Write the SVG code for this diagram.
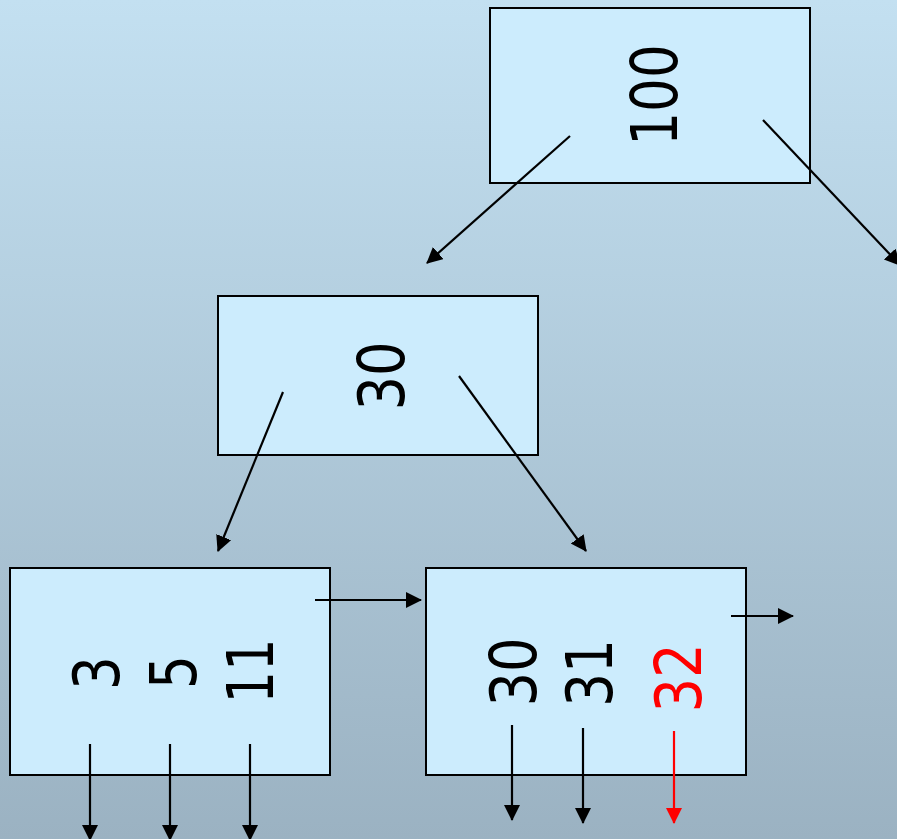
<svg xmlns="http://www.w3.org/2000/svg" width="897" height="839" viewBox="0 0 897 839">
<defs>
<linearGradient id="bg" x1="0" y1="0" x2="0" y2="1">
<stop offset="0" stop-color="#c3e0f1"/>
<stop offset="1" stop-color="#9bb2c2"/>
</linearGradient>
<marker id="ah" markerUnits="userSpaceOnUse" markerWidth="18" markerHeight="18" refX="15" refY="8" orient="auto">
<path d="M0,0 L16,8 L0,16 z" fill="#000"/>
</marker>
<marker id="ahr" markerUnits="userSpaceOnUse" markerWidth="18" markerHeight="18" refX="15" refY="8" orient="auto">
<path d="M0,0 L16,8 L0,16 z" fill="#ff0000"/>
</marker>
</defs>
<style>
.box{fill:#ccecfd;stroke:#000;stroke-width:2}
.lbl{font-family:"DejaVu Sans",sans-serif;font-size:64px;fill:#000;text-anchor:middle}
.red{fill:#ff0000}
.c{stroke:#000;stroke-width:2.2;fill:none;marker-end:url(#ah)}
.cr{stroke:#ff0000;stroke-width:2.2;fill:none;marker-end:url(#ahr)}
</style>
<rect x="0" y="0" width="897" height="839" fill="url(#bg)"/>
<g id="node-100">
<rect class="box" x="490" y="8" width="320" height="175"/>
<text class="lbl" transform="translate(677,95) rotate(-90) scale(0.83,1)">100</text>
</g>
<g id="node-30">
<rect class="box" x="218" y="296" width="320" height="159"/>
<text class="lbl" transform="translate(404,376) rotate(-90) scale(0.85,1)">30</text>
</g>
<g id="leaf-3-5-11">
<rect class="box" x="10" y="568" width="320" height="207"/>
<text class="lbl" transform="translate(119,673) rotate(-90) scale(0.83,1)">3</text>
<text class="lbl" transform="translate(196,672) rotate(-90) scale(0.83,1)">5</text>
<text class="lbl" transform="translate(273,671) rotate(-90) scale(0.8,1)">11</text>
</g>
<g id="leaf-30-31-32">
<rect class="box" x="426" y="568" width="320" height="207"/>
<text class="lbl" transform="translate(536,672) rotate(-90) scale(0.85,1)">30</text>
<text class="lbl" transform="translate(612,673) rotate(-90) scale(0.83,1)">31</text>
<text class="lbl red" transform="translate(701,678) rotate(-90) scale(0.85,1)">32</text>
</g>
<g id="connectors">
<line class="c" x1="570" y1="136" x2="427" y2="263"/>
<line class="c" x1="763" y1="120" x2="900" y2="265"/>
<line class="c" x1="283" y1="392" x2="218" y2="551"/>
<line class="c" x1="459" y1="376" x2="586" y2="551"/>
<line class="c" x1="315" y1="600" x2="421" y2="600"/>
<line class="c" x1="731" y1="616" x2="793" y2="616"/>
<line class="c" x1="90" y1="744" x2="90" y2="840"/>
<line class="c" x1="170" y1="744" x2="170" y2="840"/>
<line class="c" x1="250" y1="744" x2="250" y2="840"/>
<line class="c" x1="512" y1="725" x2="512" y2="820"/>
<line class="c" x1="583" y1="728" x2="583" y2="823"/>
<line class="cr" x1="674" y1="731" x2="674" y2="823"/>
</g>
</svg>
